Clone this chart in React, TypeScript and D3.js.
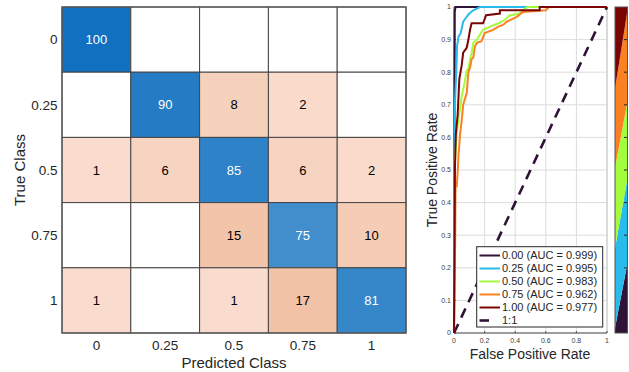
import React from 'react'
import * as d3 from 'd3'

// confusion matrix
const classLabels = ['0', '0.25', '0.5', '0.75', '1']
const counts = [
  [100, 0, 0, 0, 0],
  [0, 90, 8, 2, 0],
  [1, 6, 85, 6, 2],
  [0, 0, 15, 75, 10],
  [1, 0, 1, 17, 81],
]

// ROC curves, [fpr, tpr]
const roc000 = [[0, 0], [0.003, 0.5], [0.005, 0.985], [0.01, 1], [1, 1]]
const roc025 = [[0, 0], [0.002, 0.45], [0.004, 0.61], [0.007, 0.715], [0.015, 0.8], [0.02, 0.88], [0.03, 0.91], [0.044, 0.92], [0.06, 0.955], [0.083, 0.97], [0.1, 0.98], [0.126, 0.99], [0.17, 1], [1, 1]]
const roc050 = [[0, 0], [0.004, 0.35], [0.006, 0.53], [0.02, 0.62], [0.03, 0.66], [0.04, 0.69], [0.05, 0.725], [0.07, 0.77], [0.083, 0.805], [0.094, 0.81], [0.105, 0.84], [0.116, 0.86], [0.126, 0.89], [0.15, 0.9], [0.19, 0.93], [0.235, 0.94], [0.29, 0.95], [0.33, 0.96], [0.366, 0.975], [0.43, 0.98], [0.45, 0.99], [0.48, 1], [1, 1]]
const roc075 = [[0, 0], [0.008, 0.3], [0.01, 0.45], [0.018, 0.45], [0.025, 0.5], [0.03, 0.55], [0.04, 0.61], [0.05, 0.65], [0.06, 0.7], [0.083, 0.735], [0.094, 0.8], [0.105, 0.815], [0.115, 0.84], [0.126, 0.845], [0.137, 0.88], [0.15, 0.89], [0.18, 0.895], [0.2, 0.92], [0.255, 0.93], [0.29, 0.94], [0.32, 0.945], [0.345, 0.955], [0.366, 0.96], [0.41, 0.97], [0.45, 0.985], [0.6, 0.99], [0.62, 1], [1, 1]]
const roc100 = [[0, 0], [0.006, 0.5], [0.012, 0.61], [0.024, 0.67], [0.035, 0.78], [0.05, 0.82], [0.06, 0.86], [0.083, 0.875], [0.094, 0.9], [0.105, 0.93], [0.115, 0.95], [0.19, 0.95], [0.21, 0.975], [0.3, 0.98], [0.3, 0.99], [0.56, 0.99], [0.56, 1], [1, 1]]
const rocCurves = [roc000, roc025, roc050, roc075, roc100]
const rocNames = ['0.00', '0.25', '0.50', '0.75', '1.00']
const aucValues = [0.999, 0.995, 0.983, 0.962, 0.977]
const rocColors = ['#301236', '#29BBEC', '#A3FD3C', '#FB8022', '#7A0403']
const rocTicksX = [0, 0.2, 0.4, 0.6, 0.8, 1]
const rocTicksY = [0, 0.1, 0.2, 0.3, 0.4, 0.5, 0.6, 0.7, 0.8, 0.9, 1]

// clipped third panel (stacked shares at its left edge)
const stripX = [0, 1]
const stripShares = [
  { x: 0, c0: 0.015, c1: 0.245, c2: 0.246, c3: 0.244, c4: 0.25 },
  { x: 1, c0: 0.215, c1: 0.26, c2: 0.235, c3: 0.28, c4: 0.01 },
]

const font = 'Liberation Sans, Arial, Helvetica, sans-serif'

const App = () => {
  // confusion chart scales
  const cx = d3.scaleBand().domain(classLabels).range([62, 406])
  const cy = d3.scaleBand().domain(classLabels).range([7, 333])
  const diagColor = d3.scaleLinear<string>().domain([75, 100]).range(['#428ECC', '#1170BF'])
  const offColor = d3.scaleLinear<string>().domain([1, 17]).range(['#F9DCCD', '#F1C2A6'])

  // roc scales
  const rx = d3.scaleLinear().domain([0, 1]).range([454, 607])
  const ry = d3.scaleLinear().domain([0, 1]).range([333, 7])
  const rocLine = d3.line<number[]>().x(d => rx(d[0])).y(d => ry(d[1]))

  // strip scales
  const sx = d3.scaleLinear().domain(d3.extent(stripX) as [number, number]).range([615, 627.5])
  const sy = d3.scaleLinear().domain([0, 1]).range([333, 7])
  const stackKeys = ['c0', 'c1', 'c2', 'c3', 'c4']
  const layers = d3.stack<any>().keys(stackKeys)(stripShares)
  const stripArea = d3.area<any>().x(d => sx(d.data.x)).y0(d => sy(d[0])).y1(d => sy(d[1]))

  const legendY = d3.scaleLinear().domain([0, 5]).range([255.5, 320.5])

  return (
    <div style={{ position: 'absolute', left: 0, top: 0 }}>
      <svg width={629} height={372} style={{ display: 'block', fontFamily: font }}>
        <rect width={629} height={372} fill="#fff" />

        {/* confusion matrix */}
        {counts.map((row, i) =>
          row.map((v, j) => (
            <g key={`c${i}-${j}`}>
              <rect
                x={cx(classLabels[j])}
                y={cy(classLabels[i])}
                width={cx.bandwidth()}
                height={cy.bandwidth()}
                fill={v === 0 ? '#fff' : i === j ? diagColor(v) : offColor(v)}
                stroke="#454545"
                strokeWidth={1}
              />
              {v > 0 && (
                <text
                  x={cx(classLabels[j])! + cx.bandwidth() / 2}
                  y={cy(classLabels[i])! + cy.bandwidth() / 2}
                  dy="0.35em"
                  textAnchor="middle"
                  fontSize={13}
                  fill={i === j ? '#fff' : '#000'}
                >
                  {v}
                </text>
              )}
            </g>
          ))
        )}
        <rect x={62} y={7} width={344} height={326} fill="none" stroke="#5a5a5a" strokeWidth={1.3} />
        {classLabels.map(c => (
          <text key={`yl${c}`} x={57.5} y={cy(c)! + cy.bandwidth() / 2} dy="0.35em" textAnchor="end" fontSize={13.5} fill="#262626">
            {c}
          </text>
        ))}
        {classLabels.map(c => (
          <text key={`xl${c}`} x={cx(c)! + cx.bandwidth() / 2} y={345} dy="0.35em" textAnchor="middle" fontSize={13.5} fill="#262626">
            {c}
          </text>
        ))}
        <text x={234} y={362.5} dy="0.35em" textAnchor="middle" fontSize={15} fill="#262626">Predicted Class</text>
        <text transform="translate(20,170) rotate(-90)" dy="0.35em" textAnchor="middle" fontSize={15} fill="#262626">True Class</text>

        {/* ROC */}
        <rect x={454} y={7} width={153} height={326} fill="#fff" />
        {rocTicksX.map(t => (
          <line key={`gx${t}`} x1={rx(t)} x2={rx(t)} y1={7} y2={333} stroke="#dcdcdc" strokeWidth={1} />
        ))}
        {rocTicksY.map(t => (
          <line key={`gy${t}`} x1={454} x2={607} y1={ry(t)} y2={ry(t)} stroke="#dcdcdc" strokeWidth={1} />
        ))}
        <line x1={454} x2={607} y1={7} y2={7} stroke="#c8c8c8" />
        <line x1={607} x2={607} y1={7} y2={333} stroke="#c8c8c8" />
        <line x1={454} x2={454} y1={7} y2={333} stroke="#4d4d4d" />
        <line x1={454} x2={607} y1={333} y2={333} stroke="#4d4d4d" />
        {rocTicksY.map(t => (
          <g key={`ty${t}`}>
            <line x1={454} x2={456} y1={ry(t)} y2={ry(t)} stroke="#4d4d4d" />
            <text x={451} y={ry(t)} dy="0.35em" textAnchor="end" fontSize={7} fill="#404040">{d3.format('~g')(t)}</text>
          </g>
        ))}
        {rocTicksX.map(t => (
          <g key={`tx${t}`}>
            <line x1={rx(t)} x2={rx(t)} y1={333} y2={331} stroke="#4d4d4d" />
            <text x={rx(t)} y={341} dy="0.35em" textAnchor="middle" fontSize={7} fill="#404040">{d3.format('~g')(t)}</text>
          </g>
        ))}
        <path
          d={rocLine([[0, 0], [1, 1]])!}
          fill="none"
          stroke="#301236"
          strokeWidth={2.6}
          strokeDasharray="10,7"
        />
        {rocCurves.map((c, i) => (
          <path key={`roc${i}`} d={rocLine(c)!} fill="none" stroke={rocColors[i]} strokeWidth={2} strokeLinejoin="miter" />
        ))}
        <text x={530} y={354} dy="0.35em" textAnchor="middle" fontSize={14} fill="#262626">False Positive Rate</text>
        <text transform="translate(432,170) rotate(-90)" dy="0.35em" textAnchor="middle" fontSize={14} fill="#262626">True Positive Rate</text>

        {/* legend */}
        <rect x={476.7} y={246.7} width={126} height={80.3} fill="#fff" stroke="#262626" strokeWidth={1} />
        {rocNames.map((n, i) => (
          <g key={`lg${i}`}>
            <line x1={479.5} x2={500} y1={legendY(i)} y2={legendY(i)} stroke={rocColors[i]} strokeWidth={2} />
            <text x={502} y={legendY(i)} dy="0.35em" fontSize={11} fill="#262626">
              {`${n} (AUC = ${aucValues[i].toFixed(3)})`}
            </text>
          </g>
        ))}
        <line x1={479.5} x2={489} y1={legendY(5)} y2={legendY(5)} stroke="#301236" strokeWidth={2.6} />
        <text x={502} y={legendY(5)} dy="0.35em" fontSize={11} fill="#262626">1:1</text>

        {/* clipped stacked panel */}
        {layers.map((l, i) => (
          <path key={`st${i}`} d={stripArea(l as any)!} fill={rocColors[i]} />
        ))}
        {rocTicksY.slice(1, -1).map(t => (
          <line key={`sty${t}`} x1={624} x2={627.5} y1={sy(t)} y2={sy(t)} stroke="#262626" />
        ))}
        <rect x={615} y={7} width={12.5} height={326} fill="none" stroke="#555" strokeWidth={1} />
      </svg>
    </div>
  )
}

export default App
